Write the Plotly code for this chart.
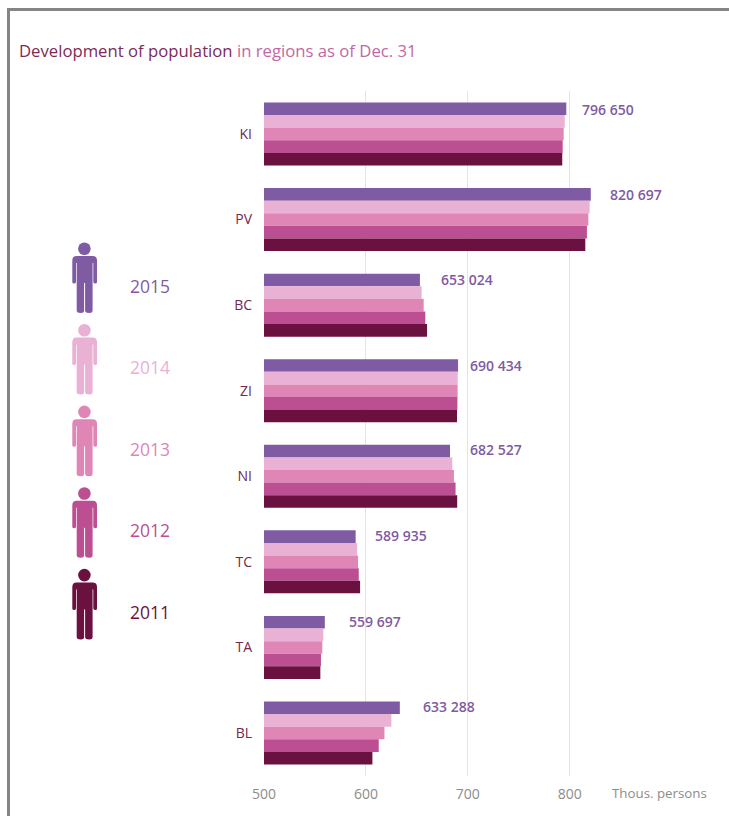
import plotly.graph_objects as go

WIDTH, HEIGHT = 729, 816

# Population in thousands of persons, by region and year
regions = ["KI", "PV", "BC", "ZI", "NI", "TC", "TA", "BL"]
years = ["2015", "2014", "2013", "2012", "2011"]
pop_2015 = [796.650, 820.697, 653.024, 690.434, 682.527, 589.935, 559.697, 633.288]
pop_2014 = [795.1, 819.6, 654.7, 690.1, 684.8, 591.3, 558.2, 625.0]
pop_2013 = [794.1, 818.3, 656.7, 690.0, 686.4, 592.3, 557.2, 618.2]
pop_2012 = [793.1, 816.9, 658.3, 689.8, 688.0, 593.0, 555.9, 612.6]
pop_2011 = [792.7, 815.3, 660.0, 689.4, 689.6, 594.3, 555.3, 606.4]
series = [pop_2015, pop_2014, pop_2013, pop_2012, pop_2011]

colors = ["#7f5ba3", "#e9b1d3", "#df86b6", "#bb4f92", "#6b113f"]
tick_values = [500, 600, 700, 800]
FONT = "Open Sans"

# Offset of each printed value from its bar end, in pixels
label_gaps = [14, 17, 19, 10, 18, 17, 22, 21]
label_rises = [24, 25, 26, 25, 27, 26, 26, 27]


def px(x):
    return x / WIDTH


def py(y):
    return 1 - y / HEIGHT


def figure_path(left, top):
    """Pictogram body as an SVG path; left/top is the shoulder corner in pixels."""
    pts = []

    def add(cmd, *xy):
        out = []
        for i in range(0, len(xy), 2):
            out.append(f"{px(left + xy[i]):.5f},{py(top + xy[i + 1]):.5f}")
        pts.append(cmd + " ".join(out))

    add("M", 0, 4.5)
    add("Q", 0, 0, 4.5, 0)
    add("L", 20.2, 0)
    add("Q", 24.7, 0, 24.7, 4.5)
    add("L", 24.7, 26)
    add("Q", 24.7, 27.5, 23.2, 27.5)
    add("Q", 21.2, 27.5, 21, 26)
    add("L", 21, 7)
    add("L", 20.3, 7)
    add("L", 20.3, 54.5)
    add("Q", 20.3, 57, 17, 57)
    add("Q", 12.8, 57, 12.8, 54.5)
    add("L", 12.8, 27)
    add("L", 11.8, 27)
    add("L", 11.8, 54.5)
    add("Q", 11.8, 57, 8.5, 57)
    add("Q", 4.4, 57, 4.4, 54.5)
    add("L", 4.4, 7)
    add("L", 3.7, 7)
    add("L", 3.7, 26)
    add("Q", 3.5, 27.5, 1.75, 27.5)
    add("Q", 0, 27.5, 0, 26)
    pts.append("Z")
    return " ".join(pts)


fig = go.Figure()
for name, values, color in zip(years, series, colors):
    fig.add_trace(
        go.Bar(
            name=name,
            y=regions,
            x=values,
            orientation="h",
            marker=dict(color=color, line=dict(width=0)),
            showlegend=False,
        )
    )

shapes = []
annotations = []

# Frame along the top and left of the page
shapes.append(dict(type="rect", xref="paper", yref="paper", x0=px(7), x1=1, y0=py(11), y1=py(8),
                   fillcolor="#858585", line_width=0))
shapes.append(dict(type="rect", xref="paper", yref="paper", x0=px(7), x1=px(10), y0=0, y1=py(8),
                   fillcolor="#858585", line_width=0))

# Year key: one pictogram and year for each series
STEP = 81.6
for i, (name, color) in enumerate(zip(years, colors)):
    top = 256 + i * STEP
    shapes.append(dict(type="circle", xref="paper", yref="paper",
                       x0=px(78.1), x1=px(90.7), y0=py(top - 1), y1=py(top - 13.6),
                       fillcolor=color, line_width=0))
    shapes.append(dict(type="path", xref="paper", yref="paper", path=figure_path(72.3, top),
                       fillcolor=color, line_width=0))
    annotations.append(dict(xref="paper", yref="paper", x=px(172), y=py(top + 29.5), text=name,
                            showarrow=False, xanchor="right", yanchor="middle",
                            font=dict(family=FONT, size=17.5, color=color)))

# Value of the latest year beside each region's top bar
for region, value, gap, rise in zip(regions, pop_2015, label_gaps, label_rises):
    text = f"{round(value * 1000):,}".replace(",", " ")
    annotations.append(dict(xref="x", yref="y", x=value, y=region, text=text,
                            showarrow=False, xanchor="left", yanchor="middle",
                            xshift=gap, yshift=rise,
                            font=dict(family=FONT, size=14, weight=600, color=colors[0])))

# Title in two tones
annotations.append(dict(
    xref="paper", yref="paper", x=px(16.5), y=py(50), xanchor="left", yanchor="middle",
    showarrow=False,
    text='<span style="color:#7d2a58">Development of population</span> '
         '<span style="color:#c268a3">in regions as of Dec. 31</span>',
    font=dict(family=FONT, size=16.7),
))

# Unit caption at the end of the value axis
annotations.append(dict(xref="paper", yref="paper", x=px(610), y=py(792.5), xanchor="left",
                        yanchor="middle", showarrow=False, text="Thous. persons",
                        font=dict(family=FONT, size=13.3, color="#8c8c8c")))

fig.update_layout(
    width=WIDTH,
    height=HEIGHT,
    margin=dict(l=0, r=0, t=0, b=0),
    paper_bgcolor="white",
    plot_bgcolor="white",
    barmode="group",
    bargap=0.264,
    bargroupgap=0,
    shapes=shapes,
    annotations=annotations,
    font=dict(family=FONT),
    xaxis=dict(
        automargin=False,
        domain=[px(264), px(722.55)],
        range=[500, 950],
        tickmode="array",
        tickvals=tick_values,
        ticktext=[str(v) for v in tick_values],
        showgrid=True,
        gridcolor="#e4e4e4",
        gridwidth=1,
        zeroline=False,
        showline=False,
        ticks="",
        ticklabelstandoff=8,
        tickfont=dict(family=FONT, size=14, color="#8c8c8c"),
    ),
    yaxis=dict(
        automargin=False,
        domain=[py(775.8), py(91.2)],
        type="category",
        categoryorder="array",
        categoryarray=regions,
        range=[7.5, -0.5],
        showgrid=False,
        zeroline=False,
        showline=False,
        ticks="",
        ticklabelstandoff=11,
        tickfont=dict(family=FONT, size=14, weight=500, color="#74274f"),
    ),
)

fig.write_html("out.html")
